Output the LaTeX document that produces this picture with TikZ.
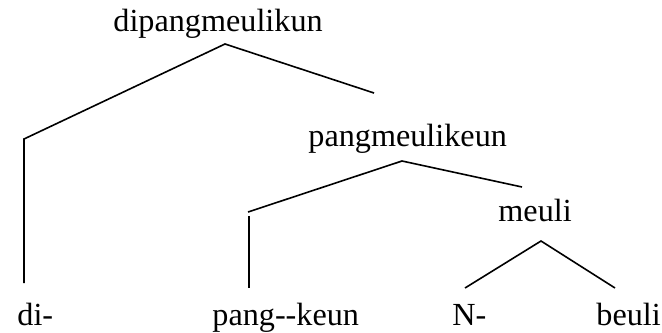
\documentclass[tikz,border=0pt]{standalone}
\usepackage{fontspec}
\setmainfont{Liberation Serif}

\tikzset{
  wort/.style={inner sep=0pt, anchor=base west, font=\fontsize{16.1}{19}\selectfont},
  ast/.style={line width=0.8pt, line join=miter},
}

\begin{document}
\begin{tikzpicture}[x=0.5pt,y=-0.5pt]
  \useasboundingbox (0,0) rectangle (662,332);

  % Woerter
  \node[wort] (wurzel) at (113,32) {dipangmeulikun};
  \node[wort] (pangmeuli) at (308,146) {pangmeulikeun};
  \node[wort] (meuli) at (498,221) {meuli};
  \node[wort] (di) at (17,325) {di-};
  \node[wort] (pang) at (212,325) {pang-\kern0pt-keun};
  \node[wort] (N) at (452,325) {N-};
  \node[wort] (beuli) at (596,325) {beuli};

  % Knoten der Aeste
  \coordinate (k1) at (225,44);
  \coordinate (e1) at (24,139);
  \coordinate (f1) at (24,283);
  \coordinate (g1) at (374,93);
  \coordinate (k2) at (402,161);
  \coordinate (e2) at (248,212);
  \coordinate (h2) at (249,216);
  \coordinate (f2) at (249,288);
  \coordinate (g2) at (522,187);
  \coordinate (k3) at (541,241);
  \coordinate (f3) at (465,288);
  \coordinate (g3) at (615,288);

  % Aeste
  \draw[ast] (f1) -- (e1) -- (k1) -- (g1);
  \draw[ast] (e2) -- (k2) -- (g2);
  \draw[ast] (h2) -- (f2);
  \draw[ast] (f3) -- (k3) -- (g3);
\end{tikzpicture}
\end{document}
